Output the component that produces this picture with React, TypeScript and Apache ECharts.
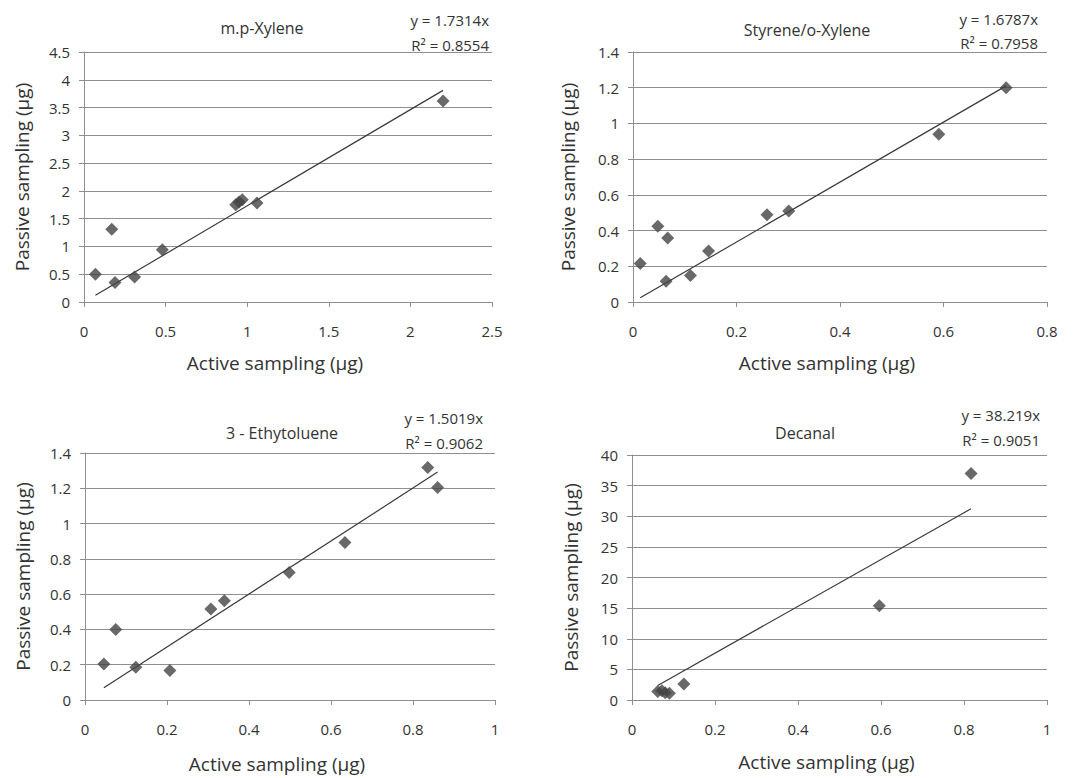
import React, { useEffect, useRef } from "react";
import * as echarts from "echarts";

// ---- Data ----
const panelTitles = ["m.p-Xylene", "Styrene/o-Xylene", "3 - Ethytoluene", "Decanal"];
const slopes = [1.7314, 1.6787, 1.5019, 38.219];
const equations = ["y = 1.7314x", "y = 1.6787x", "y = 1.5019x", "y = 38.219x"];
const r2Labels = ["R² = 0.8554", "R² = 0.7958", "R² = 0.9062", "R² = 0.9051"];

const xyleneActive = [0.07, 0.17, 0.19, 0.31, 0.48, 0.93, 0.95, 0.97, 1.06, 2.2];
const xylenePassive = [0.5, 1.31, 0.35, 0.45, 0.94, 1.75, 1.8, 1.84, 1.78, 3.62];

const styreneActive = [0.014, 0.048, 0.067, 0.064, 0.111, 0.146, 0.259, 0.301, 0.591, 0.721];
const styrenePassive = [0.215, 0.424, 0.358, 0.116, 0.149, 0.286, 0.489, 0.51, 0.939, 1.2];

const ethylActive = [0.046, 0.075, 0.124, 0.207, 0.307, 0.34, 0.498, 0.634, 0.836, 0.86];
const ethylPassive = [0.204, 0.4, 0.185, 0.167, 0.516, 0.562, 0.723, 0.893, 1.318, 1.205];

const decanalActive = [0.062, 0.072, 0.08, 0.09, 0.125, 0.596, 0.817];
const decanalPassive = [1.4, 1.5, 1.2, 1.1, 2.6, 15.4, 37.0];

const xMax = [2.5, 0.8, 1, 1];
const xStep = [0.5, 0.2, 0.2, 0.2];
const yMax = [4.5, 1.4, 1.4, 40];
const yStep = [0.5, 0.2, 0.2, 5];

const xTitle = "Active sampling (µg)";
const yTitle = "Passive sampling (µg)";

const actives = [xyleneActive, styreneActive, ethylActive, decanalActive];
const passives = [xylenePassive, styrenePassive, ethylPassive, decanalPassive];

// ---- Layout ----
const grids = [
  { left: 84, top: 52, width: 408, height: 250 },
  { left: 633, top: 52, width: 414, height: 250 },
  { left: 85, top: 453, width: 410, height: 247 },
  { left: 632, top: 455, width: 415, height: 245 },
];
const yNameGaps = [53, 56, 53, 52];
const xNameGaps = [51, 51, 54, 52];
const titlePos = [
  [262, 28],
  [807, 30],
  [282, 433],
  [805, 433],
];
const eqPos = [
  [489, 20, 45],
  [1038, 19, 43],
  [483, 418, 443],
  [1040, 415, 440],
];

const FONT = "'Open Sans', 'Liberation Sans', sans-serif";
const TXT = "#333333";
const GRID = "#8f8f8f";

export default function App() {
  const ref = useRef<HTMLDivElement>(null);
  useEffect(() => {
    if (!ref.current) return;
    const chart = echarts.init(ref.current, undefined, { renderer: "svg" });

    const xAxis = grids.map((_, i) => ({
      type: "value",
      gridIndex: i,
      min: 0,
      max: xMax[i],
      interval: xStep[i],
      name: xTitle,
      nameLocation: "middle",
      nameGap: xNameGaps[i],
      nameTextStyle: {
        fontSize: 19,
        color: TXT,
        fontFamily: FONT,
        padding: [0, 26, 0, 0],
      },
      axisLine: { show: true, lineStyle: { color: GRID, width: 1 } },
      axisTick: { show: true, length: 5, lineStyle: { color: GRID } },
      axisLabel: { margin: 21, fontSize: 15, color: TXT, fontFamily: FONT },
      splitLine: { show: false },
    }));

    const yAxis = grids.map((_, i) => ({
      type: "value",
      gridIndex: i,
      min: 0,
      max: yMax[i],
      interval: yStep[i],
      name: yTitle,
      nameLocation: "middle",
      nameGap: yNameGaps[i],
      nameRotate: 90,
      nameTextStyle: { fontSize: 19, color: TXT, fontFamily: FONT },
      axisLine: { show: true, lineStyle: { color: GRID, width: 1 } },
      axisTick: { show: true, length: 5, lineStyle: { color: GRID } },
      axisLabel: { margin: 14, fontSize: 15, color: TXT, fontFamily: FONT },
      splitLine: { show: true, lineStyle: { color: GRID, width: 1 } },
    }));

    const series: any[] = [];
    actives.forEach((act, i) => {
      const pts = act.map((x, k) => [x, passives[i][k]]);
      series.push({
        type: "scatter",
        xAxisIndex: i,
        yAxisIndex: i,
        symbol: "diamond",
        symbolSize: 13,
        itemStyle: { color: "#444444" },
        data: pts,
        z: 3,
      });
      const lo = Math.min(...act);
      const hi = Math.max(...act);
      series.push({
        type: "line",
        xAxisIndex: i,
        yAxisIndex: i,
        symbol: "none",
        lineStyle: { color: "#3a3a3a", width: 1.2 },
        data: [
          [lo, slopes[i] * lo],
          [hi, slopes[i] * hi],
        ],
        z: 2,
      });
    });

    const graphic: any[] = [];
    panelTitles.forEach((t, i) => {
      graphic.push({
        type: "text",
        x: titlePos[i][0],
        y: titlePos[i][1],
        style: {
          text: t,
          fontSize: 16,
          fontFamily: FONT,
          fill: TXT,
          textAlign: "center",
          textVerticalAlign: "middle",
        },
      });
      graphic.push({
        type: "text",
        x: eqPos[i][0],
        y: eqPos[i][1],
        style: {
          text: equations[i],
          fontSize: 15,
          fontFamily: FONT,
          fill: TXT,
          textAlign: "right",
          textVerticalAlign: "middle",
        },
      });
      graphic.push({
        type: "text",
        x: eqPos[i][0],
        y: eqPos[i][2],
        style: {
          text: r2Labels[i],
          fontSize: 15,
          fontFamily: FONT,
          fill: TXT,
          textAlign: "right",
          textVerticalAlign: "middle",
        },
      });
    });

    chart.setOption({
      animation: false,
      backgroundColor: "#ffffff",
      grid: grids,
      xAxis,
      yAxis,
      series,
      graphic,
    });
    return () => chart.dispose();
  }, []);

  return (
    <div
      ref={ref}
      style={{ position: "absolute", left: 0, top: 0, width: 1079, height: 778 }}
    />
  );
}
